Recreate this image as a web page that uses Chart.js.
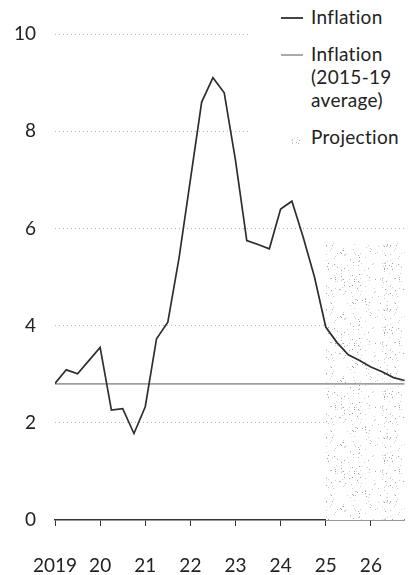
<!DOCTYPE html>
<html>
<head>
<meta charset="utf-8">
<script src="https://cdn.jsdelivr.net/npm/chart.js@4/dist/chart.umd.min.js"></script>
<style>
  html, body { margin: 0; padding: 0; background: #fff; overflow: hidden; }
  #wrap { position: relative; width: 410px; height: 575px; }
  #inflChart { display: block; }
  #legend {
    position: absolute; left: 250px; top: 0; width: 160px; height: 155px;
    background: #fff; font-family: Lato, sans-serif; font-size: 19px; color: #222;
  }
  .item { position: absolute; left: 31px; line-height: 23px; }
  .item .txt { position: absolute; left: 30px; top: 0; white-space: nowrap; letter-spacing: 0.3px; }
  .swatch { position: absolute; left: 0; }
</style>
</head>
<body>
<div id="wrap">
  <canvas id="inflChart" width="410" height="575"></canvas>
  <div id="legend">
    <div class="item" style="top:5px"><span class="swatch" style="top:12px;width:22px;height:2px;background:#444"></span><span class="txt">Inflation</span></div>
    <div class="item" style="top:42px"><span class="swatch" style="top:12px;width:22px;height:2px;background:#aaa"></span><span class="txt">Inflation<br>(2015-19<br>average)</span></div>
    <div class="item" style="top:125px"><span class="swatch" id="projSwatch" style="top:8px;left:10px;width:11px;height:11px"></span><span class="txt">Projection</span></div>
  </div>
</div>
<script>
const quarters = [2019.0, 2019.25, 2019.5, 2019.75, 2020.0, 2020.25, 2020.5, 2020.75,
  2021.0, 2021.25, 2021.5, 2021.75, 2022.0, 2022.25, 2022.5, 2022.75,
  2023.0, 2023.25, 2023.5, 2023.75, 2024.0, 2024.25, 2024.5, 2024.75,
  2025.0, 2025.25, 2025.5, 2025.75, 2026.0, 2026.25, 2026.5, 2026.75];
const inflation = [2.81, 3.09, 3.01, 3.28, 3.55, 2.26, 2.29, 1.78,
  2.33, 3.73, 4.07, 5.4, 7.0, 8.6, 9.1, 8.79,
  7.4, 5.75, 5.67, 5.58, 6.4, 6.56, 5.82, 5.0,
  3.97, 3.65, 3.4, 3.28, 3.15, 3.05, 2.93, 2.87];
const averageValue = 2.8;
const projectionStart = 2025.0;
const projectionTop = 5.7;
const yearTicks = [2019, 2020, 2021, 2022, 2023, 2024, 2025, 2026];
const yearLabels = ['2019', '20', '21', '22', '23', '24', '25', '26'];

// sparse stipple texture for the projection area
function makeStipple() {
  const n = 64;
  const c = document.createElement('canvas');
  c.width = n; c.height = n;
  const g = c.getContext('2d');
  g.fillStyle = '#fff';
  g.fillRect(0, 0, n, n);
  const h = k => { const v = Math.sin(k * 12.9898) * 43758.5453; return v - Math.floor(v); };
  for (let i = 0; i < 180; i++) {
    g.fillStyle = h(i + 0.5) < 0.3 ? '#a2a2a2' : '#cfcfcf';
    g.fillRect(Math.floor(h(i + 1.1) * n), Math.floor(h(i + 7.3) * n), 1, 1);
  }
  return c;
}
const stipple = makeStipple();
document.getElementById('projSwatch').style.background = 'url(' + stipple.toDataURL() + ') #e4e4e4';

const ctx = document.getElementById('inflChart').getContext('2d');
const pattern = ctx.createPattern(stipple, 'repeat');

const first = quarters[0];
const last = quarters[quarters.length - 1];

new Chart(ctx, {
  type: 'line',
  data: {
    datasets: [{
      label: 'Inflation',
      data: quarters.map((q, i) => ({ x: q, y: inflation[i] })),
      borderColor: '#2e2e2e',
      borderWidth: 1.7,
      pointRadius: 0,
      tension: 0
    }, {
      label: 'Inflation (2015-19 average)',
      data: [{ x: first, y: averageValue }, { x: last, y: averageValue }],
      borderColor: '#a0a0a0',
      borderWidth: 1.8,
      pointRadius: 0
    }, {
      label: 'Projection',
      data: [{ x: projectionStart, y: projectionTop }, { x: last, y: projectionTop }],
      borderWidth: 0,
      borderColor: 'rgba(0,0,0,0)',
      backgroundColor: pattern,
      fill: 'origin',
      pointRadius: 0
    }]
  },
  options: {
    responsive: false,
    animation: false,
    layout: { padding: { top: 34, right: 1, bottom: 0, left: 0 } },
    plugins: { legend: { display: false }, tooltip: { enabled: false } },
    scales: {
      x: {
        type: 'linear',
        min: first,
        max: last,
        afterBuildTicks: scale => { scale.ticks = yearTicks.map(v => ({ value: v })); },
        afterFit: scale => { scale.height = 55; },
        grid: { drawOnChartArea: false, drawTicks: true, tickLength: 6, color: '#333' },
        border: { display: true, color: '#333', width: 1.5 },
        ticks: {
          padding: 28,
          color: '#222',
          font: { family: 'Lato', size: 19 },
          maxRotation: 0,
          autoSkip: false,
          callback: v => yearLabels[yearTicks.indexOf(v)]
        }
      },
      y: {
        min: 0,
        max: 10,
        afterFit: scale => { scale.width = 55; },
        ticks: { stepSize: 2, padding: 19, color: '#222', font: { family: 'Lato', size: 19 } },
        grid: { drawTicks: false, color: ctx => ctx.tick.value === 0 ? 'rgba(0,0,0,0)' : '#b5b5b5' },
        border: { display: false, dash: [1, 3] }
      }
    }
  }
});
</script>
</body>
</html>
